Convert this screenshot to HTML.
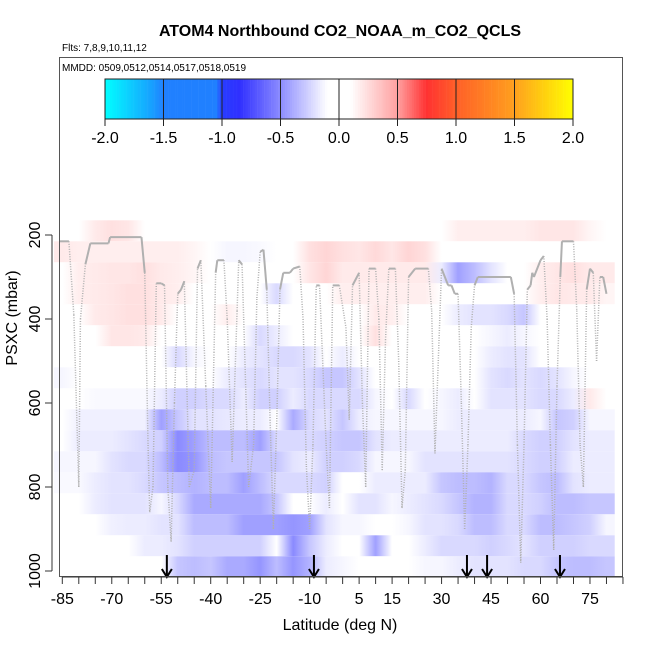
<!DOCTYPE html>
<html><head><meta charset="utf-8">
<style>
body{margin:0;background:#fff;}
svg text{font-family:"Liberation Sans",sans-serif;}
</style></head>
<body>
<svg id="chart" width="650" height="650" viewBox="0 0 650 650" xmlns="http://www.w3.org/2000/svg">
<defs id="defs"></defs>
<text x="340" y="36" text-anchor="middle" font-size="16" font-weight="bold">ATOM4 Northbound CO2_NOAA_m_CO2_QCLS</text>
<text x="62" y="51" font-size="10">Flts: 7,8,9,10,11,12</text>
<g id="heat"></g>
<g id="tracks"></g>
<g id="arrows"></g>
<rect x="59.5" y="57.5" width="563" height="519" fill="none" stroke="#555" stroke-width="1"/>
<text x="62" y="71" font-size="10">MMDD: 0509,0512,0514,0517,0518,0519</text>
<g id="cbar"></g>
<g id="xaxis"></g>
<g id="yaxis"></g>
<text x="340" y="630" text-anchor="middle" font-size="16">Latitude (deg N)</text>
<text transform="translate(17,318) rotate(-90)" text-anchor="middle" font-size="16">PSXC (mbar)</text>
</svg>
<script>
const latCenters=[-85,-80,-75,-70,-65,-60,-55,-50,-45,-40,-35,-30,-25,-20,-15,-10,-5,0,5,10,15,20,25,30,35,40,45,50,55,60,65,70,75,80];
const rowTops=[165,215,265,315,365,415,465,515,565,615,665,715,765,815,865,915,965];
const r0=[0,0,0.1,0.15,0.12,0,0,0,0,0,0,0,0,0,0,0,0, 0,0,0,0,0,0,0,0.08,0.08,0.08,0.08,0.08,0.12,0.12,0.12,0.05,0];
const r1=[0.1,0.08,0.08,0.08,0.08,0.08,0.08,0.08,0.05,0,-0.05,-0.05,-0.03,0,0,0.15,0.2, 0.15,0.12,0.18,0.12,0.2,0.15,0,0,0,0,0,0,0,0,0,0,0];
const r2=[0,0.08,0.1,0.12,0.12,0.15,0.1,0.08,0.05,0,0,0,0,0,0,0.12,0.2, 0.1,0.1,0.1,0.1,0.1,0.1,-0.1,-0.5,-0.35,-0.15,0,0,0.08,0.12,0.15,0.1,0.1];
const r3=[0,0.08,0.1,0.12,0.15,0.15,0.1,0.08,0,0,0,0,0,-0.2,0,0,0, 0.08,0.08,0.08,0.08,0.08,0.08,0,0,0,0,0,0,0.08,0.12,0.1,0.1,0.05];
const r4=[0,0,0.1,0.12,0.15,0.15,0.1,0,0,0,0.08,0,0,0,0,0,0, 0,0,0.1,0.08,0,0,0,-0.1,-0.15,-0.15,-0.2,-0.3,0,0,0,0,0];
const r5=[0,0,0,0.12,0.12,0.1,0,0,0,0,0,0,-0.2,-0.1,0,0,0, 0,0,0.15,0,0,0,0,0,0,-0.05,-0.1,-0.05,0,0,0,0,0];
const r6=[0,0,0,0,0,0,0,-0.2,-0.05,0,0,-0.1,-0.15,-0.2,-0.2,-0.15,0, -0.1,0,0,0,0,0,0,0,0,-0.1,-0.15,-0.15,0,0,0,0,0];
const r7=[-0.05,0,0,0,0,0,0,0,0,0,-0.1,-0.15,-0.2,-0.15,-0.15,-0.2,-0.3, -0.3,-0.15,0,0,0,0,0,0,0,-0.15,-0.2,-0.15,-0.2,-0.15,-0.05,0,0];
const r8=[0,0,-0.03,-0.03,-0.03,-0.03,-0.1,-0.25,-0.25,-0.2,-0.2,-0.1,-0.25,-0.25,-0.1,-0.2,-0.2, -0.2,-0.2,-0.05,0,-0.2,0,-0.05,-0.1,0,-0.15,-0.15,-0.15,-0.2,-0.2,-0.1,0.1,0];
const r9=[0,-0.08,-0.08,-0.08,-0.08,-0.08,-0.5,-0.3,-0.15,-0.15,-0.12,-0.1,-0.1,0,-0.45,-0.2,-0.15, -0.3,-0.1,-0.05,-0.05,-0.05,-0.05,-0.05,-0.1,-0.1,-0.1,-0.1,-0.1,-0.05,-0.3,-0.25,-0.05,-0.05];
const r10=[0,-0.1,-0.1,-0.1,-0.15,-0.2,-0.25,-0.6,-0.5,-0.35,-0.35,-0.35,-0.5,-0.2,-0.2,-0.2,-0.25, -0.3,-0.3,-0.15,-0.1,-0.1,-0.1,-0.1,-0.1,-0.1,-0.1,-0.1,-0.2,-0.25,-0.25,-0.15,-0.1,-0.1];
const r11=[-0.05,-0.05,-0.05,-0.15,-0.2,-0.2,-0.35,-0.6,-0.55,-0.35,-0.3,-0.3,-0.3,-0.3,-0.15,-0.1,-0.25, -0.25,-0.2,-0.05,-0.05,-0.05,-0.15,-0.15,-0.15,-0.15,-0.15,-0.15,-0.2,-0.25,-0.25,-0.1,-0.1,-0.1];
const r12=[-0.03,-0.03,-0.1,-0.15,-0.15,-0.2,-0.3,-0.35,-0.4,-0.35,-0.35,-0.5,-0.35,-0.2,-0.2,-0.2,-0.25, 0,0,-0.1,-0.1,-0.1,-0.1,-0.3,-0.35,-0.35,-0.4,-0.2,-0.2,-0.3,-0.35,-0.15,-0.1,-0.1];
const r13=[0,0,-0.1,-0.15,-0.15,-0.15,-0.05,-0.2,-0.45,-0.45,-0.45,-0.45,-0.45,-0.3,0,0,-0.1, 0,-0.15,-0.15,-0.05,-0.1,-0.15,-0.2,-0.3,-0.4,-0.4,-0.2,-0.2,-0.25,-0.35,-0.35,-0.3,-0.3];
const r14=[0,0,0,-0.08,-0.1,-0.1,-0.15,-0.15,-0.35,-0.35,-0.35,-0.5,-0.5,-0.5,-0.55,-0.5,-0.15, -0.05,-0.05,0,0,-0.05,-0.15,-0.15,-0.2,-0.35,-0.35,-0.2,-0.2,-0.35,-0.35,-0.3,-0.25,-0.05];
const r15=[0,0,0,0,0,-0.1,-0.1,-0.15,-0.25,-0.25,-0.25,-0.25,-0.25,0,-0.6,-0.3,-0.1, 0,0,-0.5,0,0,-0.1,-0.2,-0.2,-0.2,-0.25,-0.2,-0.15,-0.25,-0.25,-0.25,-0.2,-0.2];
const r16=[0,0,0,0,0,0,0,-0.3,-0.35,-0.3,-0.45,-0.45,-0.55,-0.35,-0.55,-0.4,-0.1, -0.05,0,0,0,0,-0.05,-0.05,-0.1,-0.15,-0.15,-0.15,-0.2,-0.2,-0.3,-0.35,-0.35,-0.3];
const rows=[r0,r1,r2,r3,r4,r5,r6,r7,r8,r9,r10,r11,r12,r13,r14,r15,r16];
const trackLat=[-86,-83,-81.5,-80,-79.5,-78,-76.5,-71,-70.5,-61,-60,-59,-58.5,-57.5,-56.5,-55,-54,-53,-52,-51,-50,-49,-48,-46.5,-45,-44,-43,-41.5,-40,-39,-38.5,-38,-36,-35,-33.5,-32,-31.5,-30.5,-30,-28.5,-27,-26,-25,-24,-23,-22,-21,-20,-19,-18,-16,-15,-13,-12,-11,-10,-9,-8,-7,-5,-4,-3,-1,1,2,3,5,6,7,8,10,11,12,13,14,16,17,18,19,20,22,26,27,28,29,30,32,33,34,35,36,37,38,39,40,41,51,52,53,54,55,56,57,57.5,58,60,61,62,63,64,65,66,66.5,70,71,72,73,74,75,76,77,78,79,80];
const trackP=[215,215,390,800,400,270,220,220,205,205,290,700,860,800,315,315,320,800,930,600,340,330,310,800,760,280,260,560,850,480,290,260,260,400,740,380,260,270,400,800,700,350,240,235,330,640,900,650,330,290,290,280,275,400,750,900,700,320,320,700,850,320,320,420,640,320,290,600,800,280,280,400,760,450,280,280,500,850,760,300,280,280,380,720,500,280,320,320,340,340,600,900,700,420,320,300,300,340,700,980,700,330,320,290,300,260,250,400,700,950,560,300,215,215,380,700,800,330,280,290,500,300,300,340];
const arrowLats=[-53.3,-8.7,37.7,43.8,65.9];
const xTicks=[-85,-70,-55,-40,-25,-10,5,15,30,45,60,75];
const yTicks=[200,400,600,800,1000];
const cbTicks=[-2.0,-1.5,-1.0,-0.5,0.0,0.5,1.0,1.5,2.0];

const NS="http://www.w3.org/2000/svg";
function X(lat){return 62.3+(lat+85)*3.298;}
function Y(p){return 235+(p-200)*0.42;}
function mk(tag,attrs,parent){const e=document.createElementNS(NS,tag);for(const k in attrs)e.setAttribute(k,attrs[k]);parent.appendChild(e);return e;}
const hs=[[-2,[0,255,255]],[-1.5,[32,128,255]],[-1,[48,48,255]],[-0.5,[160,160,255]],[0,[255,255,255]],[0.5,[255,150,150]],[0.75,[255,50,50]],[1,[255,95,40]],[1.5,[255,160,30]],[2,[255,255,0]]];
function col(v,stops){stops=stops||hs;v=Math.max(-2,Math.min(2,v));for(let i=0;i<stops.length-1;i++){const a=stops[i],b=stops[i+1];if(v<=b[0]){const t=(v-a[0])/(b[0]-a[0]);const c=a[1].map((q,j)=>Math.round(q+(b[1][j]-q)*t));return `rgb(${c[0]},${c[1]},${c[2]})`;}}return 'rgb(255,255,0)';}
const defs=document.getElementById('defs');
const heat=document.getElementById('heat');
const x0=X(-87.5),x1=X(82.5);
rows.forEach((vals,ri)=>{
  const g=mk('linearGradient',{id:'rg'+ri,gradientUnits:'userSpaceOnUse',x1:x0,y1:0,x2:x1,y2:0},defs);
  vals.forEach((v,i)=>{mk('stop',{offset:((X(latCenters[i])-x0)/(x1-x0)).toFixed(4),'stop-color':col(v)},g);});
  const yt=Y(rowTops[ri]),yb=Math.min(Y(rowTops[ri]+50),576.5);
  const r=mk('rect',{x:x0,y:yt,width:x1-x0,height:yb-yt,fill:'url(#rg'+ri+')'},heat);
  
  
});
const tracks=document.getElementById('tracks');
for(let i=0;i<trackLat.length-1;i++){
  const solid=trackP[i]<345&&trackP[i+1]<345;
  const l=mk('line',{x1:X(trackLat[i]),y1:Y(trackP[i]),x2:X(trackLat[i+1]),y2:Y(trackP[i+1]),stroke:'#b0b0b0','stroke-width':solid?2:1.5,'stroke-dasharray':solid?'none':'1,1.5'},tracks);
  
  
}
const arrows=document.getElementById('arrows');
arrowLats.forEach(a=>{
  const g=mk('g',{},arrows);
  
  
  const x=X(a);
  mk('line',{x1:x,y1:555,x2:x,y2:576,stroke:'#000','stroke-width':2},g);
  mk('polyline',{points:`${x-5},569 ${x},577 ${x+5},569`,fill:'none',stroke:'#000','stroke-width':2},g);
});
// colorbar
const cbs=[[-2,[0,255,255]],[-1.6,[24,160,255]],[-1.5,[32,128,255]],[-1.05,[32,128,255]],[-1,[40,60,255]],[-0.85,[48,48,255]],[-0.5,[140,140,255]],[-0.1,[255,255,255]],[0.1,[255,255,255]],[0.5,[255,160,160]],[0.75,[255,50,50]],[1,[255,95,40]],[1.5,[255,160,30]],[2,[255,255,0]]];
const cb=document.getElementById('cbar');
function CX(v){return 105+(v+2)*117;}
for(let v=-2;v<2;v+=0.02){const r=mk('rect',{x:CX(v),y:79,width:2.6,height:40,fill:col(v+0.01,cbs)},cb);}
mk('rect',{x:CX(-2),y:79,width:CX(2)-CX(-2),height:40,fill:'none',stroke:'#222','stroke-width':1},cb);
cbTicks.forEach(t=>{
  mk('line',{x1:CX(t),y1:79,x2:CX(t),y2:126,stroke:'#222','stroke-width':1},cb);
  const tx=mk('text',{x:CX(t),y:143,'text-anchor':'middle','font-size':16},cb);
  tx.textContent=t.toFixed(1);
  
  
});
// axes
const xa=document.getElementById('xaxis');
mk('line',{x1:X(-85),y1:577,x2:X(85),y2:577,stroke:'#333'},xa);
for(let l=-85;l<=85;l+=5){mk('line',{x1:X(l),y1:577,x2:X(l),y2:584,stroke:'#333'},xa);}
xTicks.forEach(t=>{const tx=mk('text',{x:X(t),y:604,'text-anchor':'middle','font-size':16},xa);tx.textContent=t;});
const ya=document.getElementById('yaxis');
mk('line',{x1:52,y1:Y(200),x2:52,y2:Y(1000),stroke:'#333'},ya);
yTicks.forEach(t=>{
  mk('line',{x1:45,y1:Y(t),x2:52,y2:Y(t),stroke:'#333'},ya);
  const tx=mk('text',{transform:`translate(40,${Y(t)}) rotate(-90)`,'text-anchor':'middle','font-size':16},ya);
  tx.textContent=t;
  
  
});
</script>
</body></html>
